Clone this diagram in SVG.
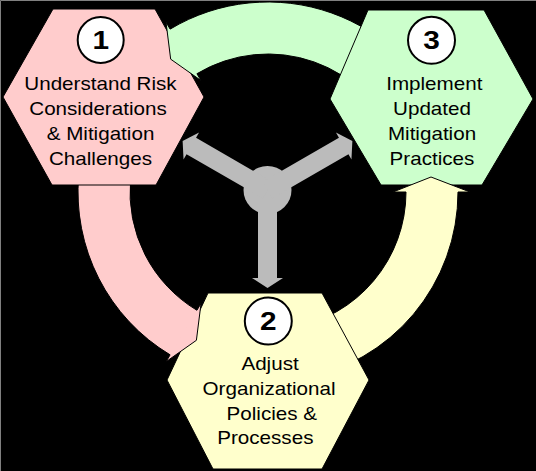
<svg xmlns="http://www.w3.org/2000/svg" width="536" height="471" viewBox="0 0 536 471">
<style>
.hex{stroke:#000;stroke-width:1}
.num{fill:#fff;stroke:#000;stroke-width:2}
.lbl{font-family:"Liberation Sans",Arial,sans-serif;font-size:18px;fill:#000;text-anchor:middle}
.dig{font-family:"Liberation Sans",Arial,sans-serif;font-size:26px;font-weight:bold;fill:#000;text-anchor:middle}
.arr{stroke:#000;stroke-width:1;stroke-linejoin:miter}
.pink{fill:#FFCCCC}
.green{fill:#CCFFCC}
.yellow{fill:#FFFFCC}
.hub{fill:#BBBBBB}
</style>
<defs>
<path id="arm" d="M0,-9.5 L88,-9.5 L88,-15.5 L98,0 L88,15.5 L88,9.5 L0,9.5 Z"/>
</defs>
<rect x="0" y="0" width="536" height="471" fill="#000"/>
<path d="M0.5,471 L0.5,0.5 L536,0.5" fill="none" stroke="#808080" stroke-width="1"/>
<g id="connectors">
<path class="arr pink" d="M78.72,175.44 A190,190 0 0 0 170.14,354.86 L166.02,361.72 L196.4,340.3 L201.04,303.43 L196.92,310.29 A138,138 0 0 1 130.53,179.97 Z"/>
<path class="arr yellow" d="M300.99,379.11 A190,190 0 0 0 458,192 L470,192 L431,177 L393,192 L406,192 A138,138 0 0 1 291.96,327.90 Z"/>
<path class="arr green" d="M446.54,127.02 A190,190 0 0 0 170.14,29.14 L166.02,22.28 L170.67,59.15 L201.04,80.57 L196.92,73.71 A138,138 0 0 1 397.68,144.80 Z"/>
<g id="hub" class="hub">
<circle cx="267.5" cy="190" r="24"/>
<use href="#arm" transform="translate(267.5,190) rotate(90)"/>
<use href="#arm" transform="translate(267.5,190) rotate(210)"/>
<use href="#arm" transform="translate(267.5,190) rotate(330)"/>
</g>
</g>
<g id="node1">
<polygon class="hex pink" points="53,9 155,9 204,97 156,185 52,185 3,97"/>
<circle class="num" cx="100.7" cy="40" r="23"/>
<g transform="translate(100.7,0) scale(1.146,1)"><text class="dig" x="0" y="49.5">1</text></g>
<g transform="translate(100.5,0) scale(1.146,1)">
<text class="lbl" x="0" y="90">Understand Risk</text>
<text class="lbl" x="-2.2" y="115">Considerations</text>
<text class="lbl" x="0" y="140">&amp; Mitigation</text>
<text class="lbl" x="0" y="165">Challenges</text>
</g>
</g>
<g id="node2">
<polygon class="hex yellow" points="208,293 322,293 369,380 322,469 213,469 167,380"/>
<circle class="num" cx="268.3" cy="321" r="23.5"/>
<g transform="translate(268.3,0) scale(1.146,1)"><text class="dig" x="0" y="330.3">2</text></g>
<g transform="translate(269,0) scale(1.146,1)">
<text class="lbl" x="0.9" y="370">Adjust</text>
<text class="lbl" x="0" y="395">Organizational</text>
<text class="lbl" x="2.4" y="420">Policies &amp;</text>
<text class="lbl" x="-3.2" y="444">Processes</text>
</g>
</g>
<g id="node3">
<polygon class="hex green" points="368,10 484,10 533,99 482,185 381,185 330,99"/>
<circle class="num" cx="431.5" cy="40.3" r="23.5"/>
<g transform="translate(431.5,0) scale(1.146,1)"><text class="dig" x="0" y="49.5">3</text></g>
<g transform="translate(432,0) scale(1.146,1)">
<text class="lbl" x="2" y="90.5">Implement</text>
<text class="lbl" x="0" y="115">Updated</text>
<text class="lbl" x="0" y="140">Mitigation</text>
<text class="lbl" x="0" y="165">Practices</text>
</g>
</g>
<g id="connector-heads">
<path class="arr pink" d="M170.14,354.86 L166.02,361.72 L196.4,340.3 L201.04,303.43 L196.92,310.29"/>
<path class="arr yellow" d="M458,192 L470,192 L431,177 L393,192 L406,192"/>
<path class="arr green" d="M170.14,29.14 L166.02,22.28 L170.67,59.15 L201.04,80.57 L196.92,73.71"/>
</g>
</svg>
